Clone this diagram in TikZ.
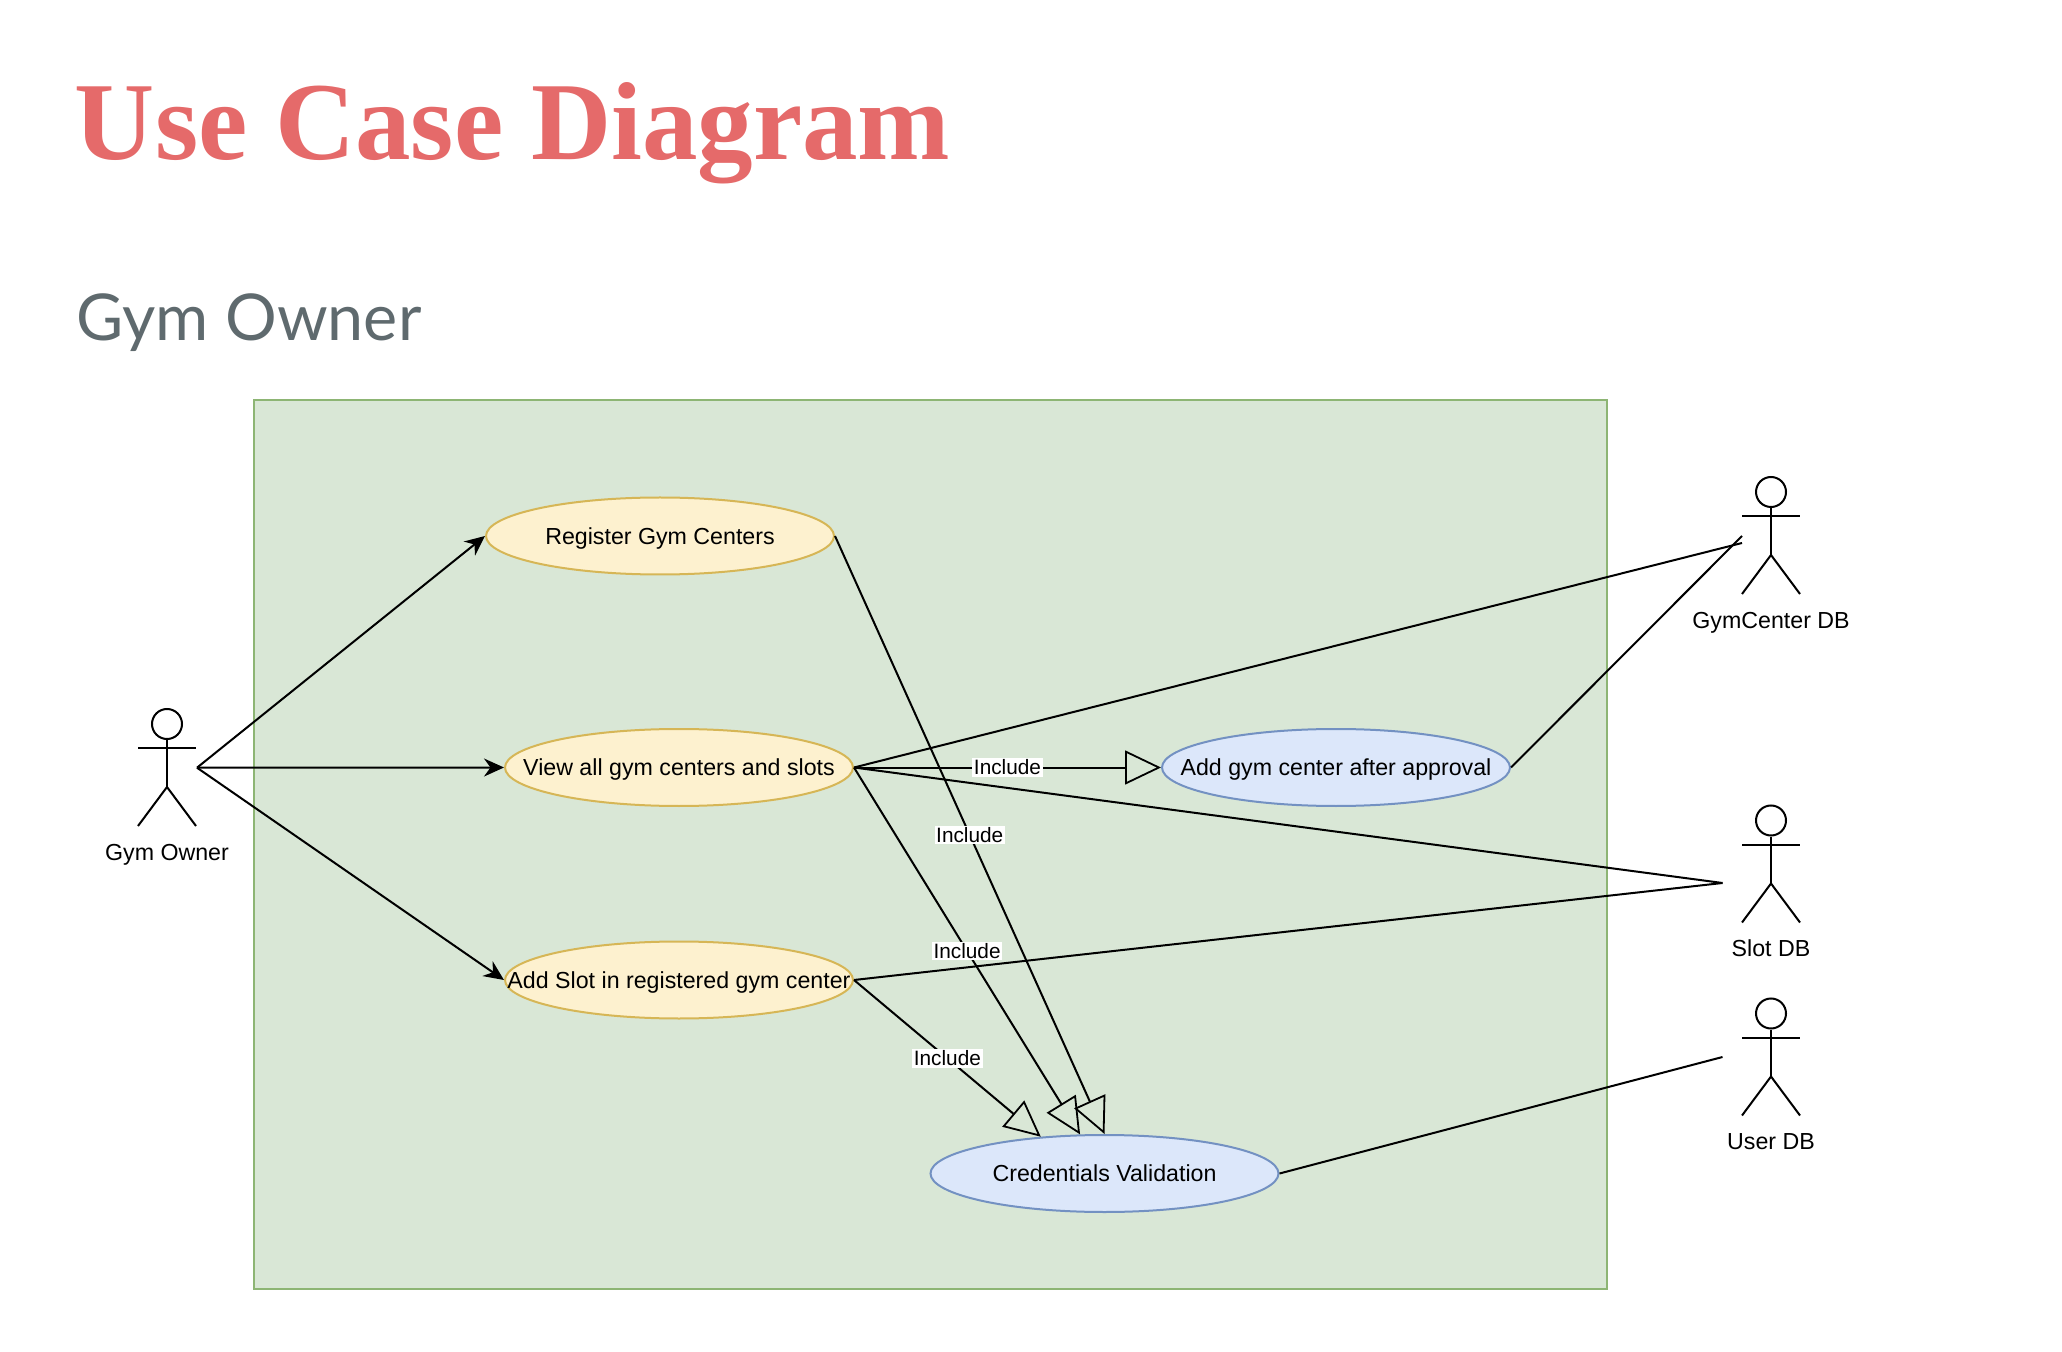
\documentclass[tikz,border=0pt]{standalone}
\usepackage{fontspec}
\usetikzlibrary{shapes.geometric,arrows.meta}
\newfontfamily\diagfont{Liberation Sans}
\newfontfamily\subfont{Lato}
\newfontfamily\titlefont{Liberation Serif}
\definecolor{titlered}{HTML}{E56A6A}
\definecolor{subgrey}{HTML}{5F6A6E}
\definecolor{boxfill}{HTML}{D9E7D6}
\definecolor{boxline}{HTML}{8DB574}
\definecolor{yfill}{HTML}{FDF1CF}
\definecolor{yline}{HTML}{D6B656}
\definecolor{bfill}{HTML}{DCE7FA}
\definecolor{bline}{HTML}{7391C2}
\tikzset{
  usecase/.style={ellipse,draw,line width=1pt,inner sep=0pt,minimum width=174pt,minimum height=38.5pt,font=\diagfont\fontsize{11.6}{14}\selectfont,text=black},
  yellowcase/.style={usecase,fill=yfill,draw=yline},
  bluecase/.style={usecase,fill=bfill,draw=bline},
  limb/.style={draw=black,line width=1pt},
  actorhead/.style={circle,draw=black,line width=1pt,inner sep=0pt,minimum size=15pt},
  actorlabel/.style={font=\diagfont\fontsize{11.6}{14}\selectfont,text=black,inner sep=0pt},
  assoc/.style={draw=black,line width=1pt},
  trigger/.style={assoc,-{Stealth[length=10pt,width=9pt]}},
  include/.style={assoc,-{Triangle[open,length=18pt,width=17pt,line width=0.9pt]}},
  inclabel/.style={midway,fill=white,inner sep=0.8pt,font=\diagfont\fontsize{10.4}{12.5}\selectfont,text=black},
}
\newcommand{\evenbox}[1]{\raisebox{0pt}[0.72em][0pt]{#1}}
\newcommand{\casetext}[1]{\makebox[0pt]{\evenbox{#1}}}
\newcommand{\drawactor}[4]{%
  % name, x, head centre y, label
  \node[actorhead] (#1head) at (#2,#3) {};
  \coordinate (#1hip) at (#2,#3+63);
  \coordinate (#1armL) at (#2-29,#3+24);
  \coordinate (#1armR) at (#2+29,#3+24);
  \coordinate (#1footL) at (#2-29,#3+102);
  \coordinate (#1footR) at (#2+29,#3+102);
  \draw[limb] (#1head.south) -- (#1hip);
  \draw[limb] (#1armL) -- (#1armR);
  \draw[limb] (#1footL) -- (#1hip) -- (#1footR);
  \node[actorlabel] (#1label) at (#2,#3+128) {\evenbox{#4}};
}
\begin{document}
\begin{tikzpicture}[x=0.5pt,y=-0.5pt]
\useasboundingbox (0,0) rectangle (2062,1352);
\node[anchor=base west,inner sep=0pt,text=titlered,font=\titlefont\fontsize{55.5}{60}\selectfont\bfseries] (title) at (74.5,160) {Use Case Diagram};
\node[anchor=base west,inner sep=0pt,text=subgrey,font=\subfont\fontsize{32.3}{38}\selectfont] (subtitle) at (76,340.5) {Gym Owner};
\node[draw=boxline,fill=boxfill,line width=1pt,minimum width=676.5pt,minimum height=444.5pt,inner sep=0pt] (system) at (930.5,844.5) {};

\node[yellowcase] (reg) at (660,536) {\casetext{Register Gym Centers}};
\node[yellowcase] (view) at (679,767.5) {\casetext{View all gym centers and slots}};
\node[yellowcase] (slot) at (679,980) {\casetext{Add Slot in registered gym center}};
\node[bluecase] (addgym) at (1336,767.5) {\casetext{Add gym center after approval}};
\node[bluecase] (cred) at (1104.5,1173.5) {\casetext{Credentials Validation}};

\drawactor{owner}{167}{724}{Gym Owner}
\drawactor{gymdb}{1771}{492}{GymCenter DB}
\drawactor{slotdb}{1771}{820.5}{Slot DB}
\drawactor{userdb}{1771}{1013.5}{User DB}

\coordinate (ownerout) at (197,767.7);
\coordinate (gymin) at (1742,543);
\coordinate (gymin2) at (1742,536);
\coordinate (slotin) at (1722.5,883);
\coordinate (userin) at (1722.5,1057);

\draw[trigger] (ownerout) -- (reg.west);
\draw[trigger] (ownerout) -- (view.west);
\draw[trigger] (ownerout) -- (slot.west);

\draw[assoc] (view.east) -- (gymin);
\draw[assoc] (addgym.east) -- (gymin2);
\draw[assoc] (view.east) -- (slotin);
\draw[assoc] (slot.east) -- (slotin);
\draw[assoc] (cred.east) -- (userin);

\draw[include] (reg.east) -- node[inclabel] (inc1) {Include} (cred.north);
\draw[include] (view.east) -- node[inclabel] (inc2) {Include} (cred.122);
\draw[include] (slot.east) -- node[inclabel] (inc3) {Include} (cred.150);
\draw[include] (view.east) -- node[inclabel] (inc4) {Include} (addgym.west);
\end{tikzpicture}
\end{document}
